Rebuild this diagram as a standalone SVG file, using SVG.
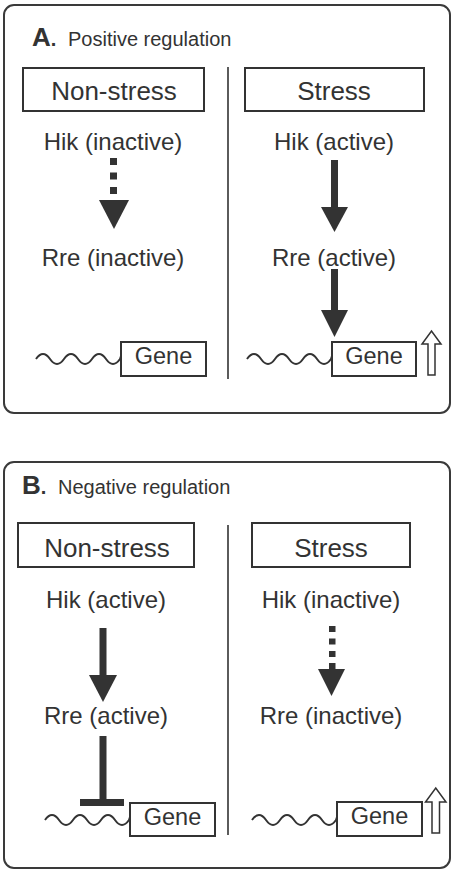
<svg xmlns="http://www.w3.org/2000/svg" width="459" height="872" viewBox="0 0 459 872">
<style>
.panel{fill:#fff;stroke:#3a3a3a;stroke-width:2}
.box{fill:#fff;stroke:#333;stroke-width:2}
.div{stroke:#333;stroke-width:1.6}
.wave{fill:none;stroke:#333;stroke-width:2}
.ink{fill:#333}
.hollow{fill:#fff;stroke:#333;stroke-width:1.5;stroke-linejoin:miter}
text{font-family:"Liberation Sans",Arial,Helvetica,sans-serif;fill:#333}
.lab{font-size:26px;text-anchor:middle}
.st{font-size:24px;text-anchor:middle}
.gene{font-size:23.5px;text-anchor:middle}
.ttl{font-size:20px}
.let{font-size:26px;font-weight:bold}
</style>
<rect width="459" height="872" fill="#fff"/>
<g id="panelA">
<rect class="panel" x="4" y="5" width="446" height="408" rx="10"/>
<text class="let" x="32" y="46">A<tspan font-size="20">.</tspan></text>
<text class="ttl" x="68" y="46">Positive regulation</text>
<line class="div" x1="228" y1="67" x2="228" y2="379"/>
</g>
<g id="A-nonstress">
<rect class="box" x="23" y="68" width="181" height="43"/>
<text class="lab" x="114" y="100">Non-stress</text>
</g>
<g id="A-hik-inactive"><text class="st" x="113" y="150">Hik (inactive)</text></g>
<g id="A-rre-inactive"><text class="st" x="113" y="266">Rre (inactive)</text></g>
<g id="A-gene-left">
<path class="wave" d="M36,359 q7,-10 14,0 t14,0 t14,0 t14,0 t14,0 t14,0 q1,-3 1,-3"/>
<rect class="box" x="121" y="342" width="85" height="34"/>
<text class="gene" x="163.5" y="364">Gene</text>
</g>
<g id="A-stress">
<rect class="box" x="245" y="68" width="179" height="43"/>
<text class="lab" x="334" y="100">Stress</text>
</g>
<g id="A-hik-active"><text class="st" x="334" y="150">Hik (active)</text></g>
<g id="A-rre-active"><text class="st" x="334" y="266">Rre (active)</text></g>
<g id="A-gene-right">
<path class="wave" d="M247,359 q7,-10 14,0 t14,0 t14,0 t14,0 t14,0 t14,0 q1,-3 1,-3"/>
<rect class="box" x="332" y="342" width="84" height="34"/>
<text class="gene" x="374" y="364">Gene</text>
<polygon class="hollow" points="428,375 435,375 435,344 441,344 431.5,331 422,344 428,344"/>
</g>
<g id="panelB">
<rect class="panel" x="4" y="462" width="446" height="406" rx="10"/>
<text class="let" x="22" y="494">B<tspan font-size="20">.</tspan></text>
<text class="ttl" x="58" y="494">Negative regulation</text>
<line class="div" x1="228" y1="525" x2="228" y2="835"/>
</g>
<g id="B-nonstress">
<rect class="box" x="18" y="523" width="176" height="44"/>
<text class="lab" x="107" y="557">Non-stress</text>
</g>
<g id="B-hik-active"><text class="st" x="106" y="608">Hik (active)</text></g>
<g id="B-rre-active"><text class="st" x="106" y="724">Rre (active)</text></g>
<g id="B-gene-left">
<path class="wave" d="M45,820 q7,-10 14,0 t14,0 t14,0 t14,0 t14,0 t14,0 q1,-3 1,-3"/>
<rect class="box" x="130" y="803" width="85" height="33"/>
<text class="gene" x="172.5" y="825">Gene</text>
</g>
<g id="B-stress">
<rect class="box" x="252" y="523" width="158" height="44"/>
<text class="lab" x="331" y="557">Stress</text>
</g>
<g id="B-hik-inactive"><text class="st" x="331" y="608">Hik (inactive)</text></g>
<g id="B-rre-inactive"><text class="st" x="331" y="724">Rre (inactive)</text></g>
<g id="B-gene-right">
<path class="wave" d="M252,820 q7,-10 14,0 t14,0 t14,0 t14,0 t14,0 t14,0 q1,-3 1,-3"/>
<rect class="box" x="337" y="802" width="85" height="34"/>
<text class="gene" x="379.5" y="824">Gene</text>
<polygon class="hollow" points="432,833 439.5,833 439.5,802 446,802 435.75,788 425.5,802 432,802"/>
</g>
<g id="connectors">
<rect class="ink" x="110" y="158" width="7" height="7"/>
<rect class="ink" x="110" y="172.5" width="7" height="7"/>
<rect class="ink" x="110" y="187" width="7" height="7"/>
<polygon class="ink" points="99,200 129,200 114,229"/>
<rect class="ink" x="331" y="160" width="7" height="48"/>
<polygon class="ink" points="321,207 348,207 334.5,232"/>
<rect class="ink" x="331" y="269" width="7" height="42"/>
<polygon class="ink" points="321,310 348,310 334.5,337"/>
<rect class="ink" x="99.5" y="628" width="7" height="48"/>
<polygon class="ink" points="89,675 117,675 103,702"/>
<rect class="ink" x="99.5" y="736" width="7" height="64"/>
<rect class="ink" x="80" y="799" width="44" height="7"/>
<rect class="ink" x="329" y="626" width="6.5" height="6"/>
<rect class="ink" x="329" y="638.5" width="6.5" height="6"/>
<rect class="ink" x="329" y="651" width="6.5" height="6"/>
<rect class="ink" x="329" y="663" width="6.5" height="6"/>
<polygon class="ink" points="318,669 345,669 331.5,696"/>
</g>
</svg>
